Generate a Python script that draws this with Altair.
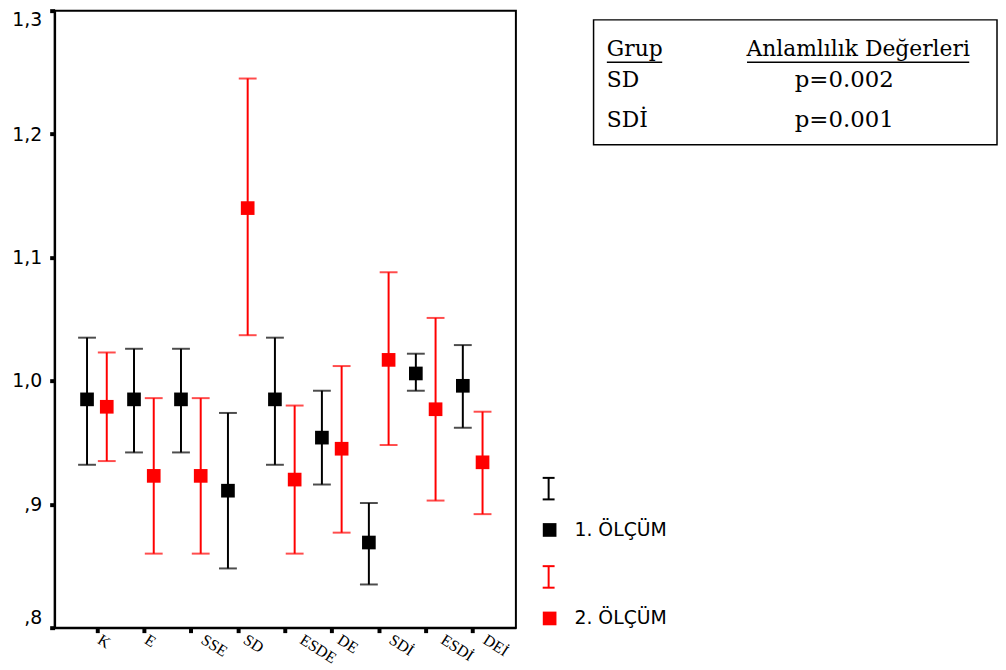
import json
import altair as alt
import pandas as pd

# ---- data ----
categories = ["K", "E", "SSE", "SD", "ESDE", "DE", "SDİ", "ESDİ", "DEİ"]
series = ["1. ÖLÇÜM", "2. ÖLÇÜM"]
mean_1 = [0.985, 0.985, 0.985, 0.911, 0.985, 0.954, 0.869, 1.006, 0.996]
upper_1 = [1.035, 1.026, 1.026, 0.974, 1.035, 0.992, 0.901, 1.022, 1.029]
lower_1 = [0.932, 0.942, 0.942, 0.848, 0.932, 0.916, 0.835, 0.992, 0.962]
mean_2 = [0.979, 0.923, 0.923, 1.140, 0.920, 0.945, 1.017, 0.977, 0.934]
upper_2 = [1.023, 0.986, 0.986, 1.245, 0.980, 1.012, 1.088, 1.051, 0.975]
lower_2 = [0.935, 0.860, 0.860, 1.037, 0.860, 0.877, 0.948, 0.903, 0.892]
y_ticks = [0.8, 0.9, 1.0, 1.1, 1.2, 1.3]
table_header = ["Grup", "Anlamlılık Değerleri"]
table_groups = ["SD", "SDİ"]
table_pvalues = ["p=0.002", "p=0.001"]
colors = ["#000000", "#ff0000"]

rows = []
for i, cat in enumerate(categories):
    rows.append({"idx": i, "cat": cat, "series": series[0],
                 "mean": mean_1[i], "hi": upper_1[i], "lo": lower_1[i]})
    rows.append({"idx": i, "cat": cat, "series": series[1],
                 "mean": mean_2[i], "hi": upper_2[i], "lo": lower_2[i]})
df = pd.DataFrame(rows)
lab_df = pd.DataFrame({"idx": list(range(len(categories))), "cat": categories})

W, H = 465, 622
X_DOMAIN = [-0.9, 8.92]
STEP_PX = W / (X_DOMAIN[1] - X_DOMAIN[0])

x_scale = alt.Scale(domain=X_DOMAIN, nice=False, zero=False)
x_axis = alt.Axis(
    values=list(range(len(categories))), labels=False,
    title=None, grid=False, tickSize=5, tickWidth=4, tickColor="black",
    domainWidth=2, domainColor="black",
)
x_enc = alt.X("xpos:Q", scale=x_scale, axis=x_axis)
y_axis = alt.Axis(
    values=y_ticks,
    labelExpr="datum.value < 1 ? replace(format(datum.value, '.1f'), '0.', ',') : replace(format(datum.value, '.1f'), '.', ',')",
    title=None, grid=False, labelFont="DejaVu Sans", labelFontSize=19,
    labelColor="black", tickSize=5, tickWidth=4, tickColor="black",
    labelPadding=8, labelFlush=True, domainWidth=2, domainColor="black",
)
y_scale = alt.Scale(domain=[0.8, 1.3], nice=False, zero=False)
color_enc = alt.Color("series:N", scale=alt.Scale(domain=series, range=colors), legend=None)

base = alt.Chart(df).transform_calculate(
    xpos="datum.idx + (datum.series == '%s' ? -0.21 : 0.21)" % series[0]
)

bars = base.mark_rule(strokeWidth=2).encode(
    x=x_enc, y=alt.Y("lo:Q", scale=y_scale, axis=y_axis), y2="hi:Q", color=color_enc
)
cap_hi = base.mark_tick(orient="horizontal", size=18, thickness=2).encode(
    x=x_enc, y=alt.Y("hi:Q", scale=y_scale, axis=y_axis), color=color_enc
)
cap_lo = base.mark_tick(orient="horizontal", size=18, thickness=2).encode(
    x=x_enc, y=alt.Y("lo:Q", scale=y_scale, axis=y_axis), color=color_enc
)
points = base.mark_square(size=190, filled=True, opacity=1).encode(
    x=x_enc, y=alt.Y("mean:Q", scale=y_scale, axis=y_axis), color=color_enc
)

# category labels, slanted, starting a little right of each tick
x_labels = alt.Chart(lab_df).transform_calculate(
    xpos="datum.idx + (2 + 4.8 * length(datum.cat)) / %f" % STEP_PX
).mark_text(angle=33, align="left", baseline="top", font="Liberation Serif",
            fontSize=16, color="black").encode(
    x=x_enc, y=alt.value(H + 4), text="cat:N"
)

anno = alt.Chart(alt.Data(values=[{}]))

def txt(t, x, y, font, size, align="left"):
    return anno.mark_text(text=t, font=font, fontSize=size, align=align,
                          baseline="alphabetic", color="black").encode(
        x=alt.value(x), y=alt.value(y))

def hline(x1, x2, y, color="black", sw=1.5):
    return anno.mark_rule(color=color, strokeWidth=sw).encode(
        x=alt.value(x1), x2=alt.value(x2), y=alt.value(y))

def vline(x, y1, y2, color="black", sw=2):
    return anno.mark_rule(color=color, strokeWidth=sw).encode(
        x=alt.value(x), y=alt.value(y1), y2=alt.value(y2))

def sq(x, y, color):
    return anno.mark_square(size=190, filled=True, opacity=1, color=color).encode(
        x=alt.value(x), y=alt.value(y))

# legend (manual, to show the error-bar glyph)
legend_layers = []
for k, (ytop, ysq, ytext) in enumerate([(471, 523.5, 529.3), (560, 612.7, 618.7)]):
    c = colors[k]
    legend_layers += [
        vline(498, ytop, ytop + 21.7, c),
        hline(492, 504, ytop, c, 2),
        hline(492, 504, ytop + 21.7, c, 2),
        sq(499, ysq, c),
        txt(series[k], 524, ytext, "DejaVu Sans", 19),
    ]

# significance table
box = anno.mark_rect(fill="white", stroke="black", strokeWidth=1.5).encode(
    x=alt.value(543.3), x2=alt.value(950), y=alt.value(9.3), y2=alt.value(135.3)
)
table_layers = [
    box,
    txt(table_header[0], 556.7, 45.3, "DejaVu Serif", 22),
    txt(table_header[1], 810, 45.3, "DejaVu Serif", 22, "center"),
    hline(556.7, 612.5, 52),
    hline(698, 922, 52),
    txt(table_groups[0], 556.7, 77, "DejaVu Serif", 22),
    txt(table_pvalues[0], 796, 77, "DejaVu Serif", 23, "center"),
    txt(table_groups[1], 556.7, 117, "DejaVu Serif", 22),
    txt(table_pvalues[1], 796, 117, "DejaVu Serif", 23, "center"),
]

chart = alt.layer(bars, cap_hi, cap_lo, points, x_labels, *legend_layers, *table_layers).properties(
    width=W, height=H,
    autosize=alt.AutoSizeParams(type="none"),
    padding={"left": 47, "top": 0, "right": 486, "bottom": 40},
    background="white",
).configure_view(stroke="black", strokeWidth=2)

chart.save("out.html", embed_options={"renderer": "svg", "actions": False})
